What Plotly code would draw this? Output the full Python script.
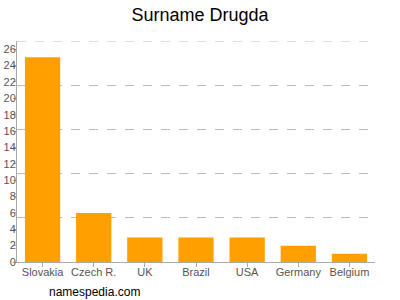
import plotly.graph_objects as go

categories = ["Slovakia", "Czech R.", "UK", "Brazil", "USA", "Germany", "Belgium"]
values = [25, 6, 3, 3, 3, 2, 1]
y_ticks = list(range(0, 27, 2))
y_max = 27
grid_step = 5.4

fig = go.Figure()
fig.add_trace(go.Bar(x=categories, y=values, marker=dict(color="#ffa000", line=dict(width=0)),
                     hoverinfo="skip"))
# invisible trace to activate secondary axis for dashed grid
fig.add_trace(go.Scatter(x=[categories[0]], y=[0], yaxis="y2", mode="markers",
                         marker=dict(opacity=0), showlegend=False, hoverinfo="skip"))

fig.add_shape(type="line", xref="paper", yref="y", x0=0, x1=1, y0=y_max, y1=y_max,
              line=dict(color="#bbbbbb", width=1, dash="dash"), layer="below")

fig.update_layout(
    width=400, height=300,
    margin=dict(l=17, r=25, t=41, b=38, autoexpand=False),
    paper_bgcolor="white", plot_bgcolor="white",
    showlegend=False,
    bargap=0.31,
    font=dict(family="Liberation Sans, Arial, sans-serif", size=11, color="#555555"),
    title=dict(text="Surname Drugda", x=0.5, xanchor="center", y=0.95, yanchor="middle",
               font=dict(size=18, color="#000000")),
    xaxis=dict(showline=True, linecolor="#aaaaaa", linewidth=1, ticks="outside",
               ticklen=4, tickcolor="#aaaaaa", showgrid=False, automargin=False,
               ticklabelstandoff=-4,
               tickfont=dict(size=11, color="#555555")),
    yaxis=dict(range=[0, y_max], tickvals=y_ticks, showgrid=False, showline=True,
               linecolor="#aaaaaa", linewidth=1, ticks="outside", ticklen=3,
               tickcolor="#aaaaaa", zeroline=False, automargin=False,
               ticklabelstandoff=-5,
               tickfont=dict(size=11, color="#555555")),
    yaxis2=dict(range=[0, y_max], overlaying="y", dtick=grid_step, tick0=0,
                showgrid=True, gridcolor="#bbbbbb", griddash="dash", gridwidth=1,
                showticklabels=False, zeroline=False, showline=False, automargin=False),
    annotations=[dict(text="namespedia.com", xref="paper", yref="paper",
                      x=30 / 358, y=-30 / 221, xanchor="left", yanchor="middle",
                      showarrow=False, font=dict(size=12, color="#000000"))],
)
fig.write_html("out.html")
